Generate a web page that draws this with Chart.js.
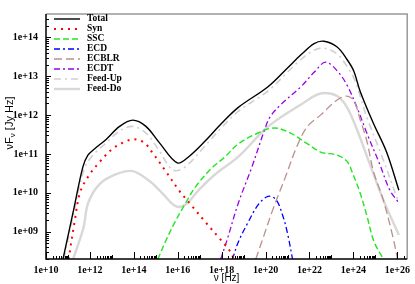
<!DOCTYPE html>
<html>
<head>
<meta charset="utf-8">
<script src="https://cdn.jsdelivr.net/npm/chart.js@4.4.0/dist/chart.umd.min.js"></script>
<style>
html, body { margin: 0; padding: 0; background: #fff; }
</style>
</head>
<body>
<canvas id="sed" width="415" height="284"></canvas>
<script>
// values are log10(nu [Hz]) and log10(nuF_nu [Jy Hz])
const totalNu = [10.77, 11.23, 11.68, 11.91, 12.23, 12.75, 13.35, 13.95, 14.55, 15.15, 15.98, 16.50, 17.26, 18.00, 18.76, 20.11, 21.01, 21.61, 22.21, 22.66, 23.26, 23.71, 24.01, 24.31, 24.91, 25.51, 26.07];
const totalF  = [8.29, 9.49, 10.67, 10.97, 11.14, 11.38, 11.71, 11.87, 11.71, 11.30, 10.77, 10.93, 11.34, 11.79, 12.20, 12.73, 13.22, 13.55, 13.84, 13.90, 13.75, 13.43, 13.14, 12.61, 11.79, 11.05, 10.07];

const synNu = [11.03, 11.32, 11.55, 11.91, 12.45, 13.04, 13.58, 14.03, 14.48, 14.84, 15.45, 16.05, 16.65, 17.26, 17.93, 18.31, 18.58];
const synF  = [8.29, 9.32, 10.01, 10.41, 10.80, 11.14, 11.31, 11.38, 11.29, 11.04, 10.56, 10.07, 9.66, 9.25, 8.81, 8.56, 8.29];

const sscNu = [15.09, 15.45, 15.87, 16.36, 16.80, 17.55, 18.16, 18.76, 19.66, 20.41, 21.16, 21.91, 22.51, 23.26, 23.71, 23.98, 24.31, 24.61, 24.93, 25.37];
const sscF  = [8.29, 8.76, 9.25, 9.74, 10.15, 10.64, 10.93, 11.26, 11.54, 11.67, 11.53, 11.26, 11.05, 10.97, 10.81, 10.48, 9.99, 9.42, 8.76, 8.29];

const ecdNu = [18.49, 18.76, 19.21, 19.66, 20.11, 20.47, 20.78, 21.01, 21.23];
const ecdF  = [8.29, 8.74, 9.25, 9.69, 9.91, 9.83, 9.42, 8.93, 8.29];

const ecblrNu = [19.55, 19.88, 20.33, 20.87, 21.46, 21.91, 22.50, 23.26, 23.71, 24.02, 24.31, 24.61, 24.91, 25.36, 25.81, 26.01];
const ecblrF  = [8.29, 8.83, 9.57, 10.36, 11.24, 11.71, 12.00, 12.39, 12.49, 12.37, 11.88, 11.34, 10.56, 9.82, 8.84, 8.29];

const ecdtNu = [17.95, 18.23, 18.76, 19.36, 19.96, 20.20, 20.71, 21.61, 22.21, 22.73, 23.26, 23.71, 24.16, 24.61, 25.21, 25.66, 26.07];
const ecdtF  = [8.29, 8.76, 9.74, 10.64, 11.63, 11.95, 12.28, 12.73, 13.10, 13.36, 13.14, 12.77, 12.20, 11.54, 10.72, 10.07, 9.74];

const feedUpNu = [10.81, 11.27, 11.74, 12.14, 12.75, 13.35, 13.95, 14.55, 15.15, 15.74, 16.14, 16.60, 17.26, 18.00, 18.76, 20.11, 21.01, 21.61, 22.21, 22.66, 23.26, 23.71, 24.07, 24.61, 25.28, 26.07];
const feedUpF  = [8.29, 9.49, 10.62, 10.97, 11.29, 11.59, 11.71, 11.54, 11.09, 10.60, 10.60, 10.80, 11.22, 11.68, 12.10, 12.62, 13.11, 13.43, 13.67, 13.72, 13.57, 13.25, 12.89, 11.95, 10.97, 9.74];

const feedDoNu = [11.23, 11.70, 11.92, 12.45, 13.20, 13.95, 14.70, 15.30, 15.90, 16.36, 16.95, 17.71, 18.76, 19.96, 20.71, 21.61, 22.21, 22.66, 23.26, 23.71, 24.16, 24.76, 25.36, 26.07];
const feedDoF  = [8.29, 9.09, 9.74, 10.23, 10.48, 10.56, 10.31, 9.99, 9.66, 9.70, 10.07, 10.48, 10.93, 11.63, 11.95, 12.27, 12.49, 12.57, 12.49, 12.20, 11.63, 10.72, 9.82, 8.92];

const xTickExp = [10, 12, 14, 16, 18, 20, 22, 24, 26];
const yTickExp = [9, 10, 11, 12, 13, 14];

function pts(nu, f) {
    return nu.map((v, i) => ({ x: Math.pow(10, v), y: Math.pow(10, f[i]) }));
}

function line(label, nu, f, color, width, dash) {
    return {
        label: label,
        data: pts(nu, f),
        borderColor: color,
        borderWidth: width,
        borderDash: dash,
        pointRadius: 0,
        fill: false,
        tension: 0.35,
        clip: 0
    };
}

const datasets = [
    line('Total', totalNu, totalF, '#000000', 1.4, []),
    line('Syn', synNu, synF, '#ff0000', 2, [2, 5]),
    line('SSC', sscNu, sscF, '#22e622', 1.4, [6, 3]),
    line('ECD', ecdNu, ecdF, '#0000ff', 1.3, [6, 3, 2, 3]),
    line('ECBLR', ecblrNu, ecblrF, '#bc8f8f', 1.3, [8, 4]),
    line('ECDT', ecdtNu, ecdtF, '#9900ee', 1.3, [6, 3, 2, 3]),
    line('Feed-Up', feedUpNu, feedUpF, '#d0d0d0', 1.6, [7, 4, 2, 4]),
    line('Feed-Do', feedDoNu, feedDoF, '#d8d8d8', 2.4, [])
];

const tickFont = { family: 'Liberation Serif', size: 10, weight: 'bold' };

function expLabel(v) {
    const e = Math.round(Math.log10(v));
    return '1e+' + (e < 10 ? '0' + e : e);
}

// axis frame, inward ticks, titles and legend
const framePlugin = {
    id: 'frame',
    afterDraw(chart) {
        const ctx = chart.ctx;
        const a = chart.chartArea;
        const xs = chart.scales.x;
        const ys = chart.scales.y;
        ctx.save();

        ctx.strokeStyle = '#999999';
        ctx.lineWidth = 1.5;
        ctx.beginPath();
        ctx.moveTo(a.left, a.top);
        ctx.lineTo(a.right, a.top);
        ctx.lineTo(a.right, a.bottom);
        ctx.stroke();

        ctx.strokeStyle = '#000000';
        ctx.lineWidth = 1.5;
        ctx.beginPath();
        ctx.moveTo(a.left, a.top);
        ctx.lineTo(a.left, a.bottom);
        ctx.lineTo(a.right, a.bottom);
        ctx.stroke();

        ctx.lineWidth = 1;
        ctx.beginPath();
        // y ticks
        for (let e = 8; e <= 14; e++) {
            for (let k = 1; k <= 9; k++) {
                const v = k * Math.pow(10, e);
                if (v < ys.min || v > ys.max) continue;
                const py = Math.round(ys.getPixelForValue(v)) + 0.5;
                const len = k === 1 ? 5 : 3;
                ctx.moveTo(a.left, py);
                ctx.lineTo(a.left + len, py);
            }
        }
        // x ticks
        xTickExp.forEach(e => {
            for (let k = 1; k <= 10; k++) {
                const v = k * Math.pow(10, e);
                if (v < xs.min || v > xs.max) continue;
                const px = Math.round(xs.getPixelForValue(v)) + 0.5;
                const len = k === 1 ? 7 : (k === 10 ? 4 : 3);
                ctx.moveTo(px, a.bottom);
                ctx.lineTo(px, a.bottom - len);
            }
        });
        ctx.stroke();

        // axis titles
        ctx.fillStyle = '#000';
        ctx.textBaseline = 'middle';
        ctx.textAlign = 'center';
        ctx.font = '10px "Liberation Sans"';
        ctx.fillText('\u03bd [Hz]', (a.left + a.right) / 2, 278);

        ctx.save();
        ctx.translate(10, 123);
        ctx.rotate(-Math.PI / 2);
        ctx.textAlign = 'left';
        const p1 = '\u03bdF', p2 = '\u03bd', p3 = ' [Jy Hz]';
        ctx.font = '11px "Liberation Sans"';
        const w1 = ctx.measureText(p1).width;
        const w3 = ctx.measureText(p3).width;
        ctx.font = '8px "Liberation Sans"';
        const w2 = ctx.measureText(p2).width;
        let x0 = -(w1 + w2 + w3) / 2;
        ctx.font = '11px "Liberation Sans"';
        ctx.fillText(p1, x0, 0);
        ctx.font = '8px "Liberation Sans"';
        ctx.fillText(p2, x0 + w1, 3);
        ctx.font = '11px "Liberation Sans"';
        ctx.fillText(p3, x0 + w1 + w2, 0);
        ctx.restore();

        // legend
        ctx.font = 'bold 9.5px "Liberation Serif"';
        ctx.textAlign = 'left';
        chart.data.datasets.forEach((ds, i) => {
            const y = 19 + i * 10;
            ctx.strokeStyle = ds.borderColor;
            ctx.lineWidth = ds.borderWidth;
            ctx.setLineDash(ds.borderDash);
            ctx.beginPath();
            ctx.moveTo(54, y);
            ctx.lineTo(80, y);
            ctx.stroke();
            ctx.setLineDash([]);
            ctx.fillText(ds.label, 87, y);
        });

        ctx.restore();
    }
};

new Chart(document.getElementById('sed'), {
    type: 'line',
    data: { datasets: datasets },
    options: {
        responsive: false,
        animation: false,
        layout: { padding: { top: 2, right: 4, left: 0, bottom: 0 } },
        plugins: { legend: { display: false }, tooltip: { enabled: false } },
        scales: {
            x: {
                type: 'logarithmic',
                min: 1e10,
                max: Math.pow(10, 26.45),
                grid: { display: false, drawTicks: false },
                border: { display: false },
                afterBuildTicks: s => { s.ticks = xTickExp.map(e => ({ value: Math.pow(10, e) })); },
                afterFit: s => { s.height = 25; },
                ticks: { font: tickFont, color: '#000', padding: 5, autoSkip: false, maxRotation: 0, callback: expLabel }
            },
            y: {
                type: 'logarithmic',
                min: Math.pow(10, 8.3),
                max: Math.pow(10, 14.6),
                grid: { display: false, drawTicks: false },
                border: { display: false },
                afterBuildTicks: s => { s.ticks = yTickExp.map(e => ({ value: Math.pow(10, e) })); },
                afterFit: s => { s.width = 46; },
                ticks: { font: tickFont, color: '#000', padding: 8, autoSkip: false, callback: expLabel }
            }
        }
    },
    plugins: [framePlugin]
});
</script>
</body>
</html>
